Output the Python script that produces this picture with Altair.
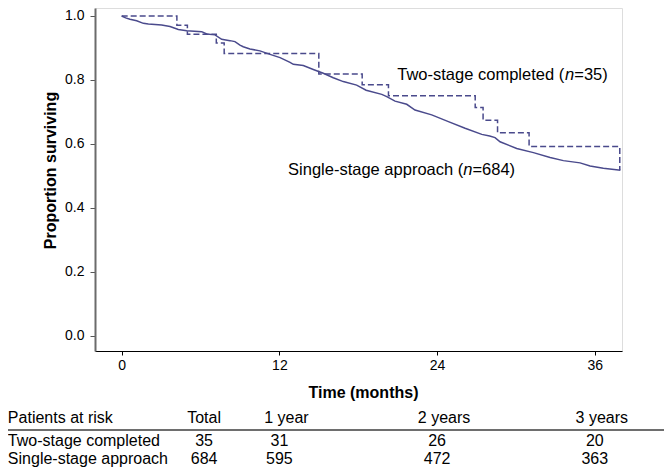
import altair as alt
import pandas as pd

# ---- data ----
single_months = [0.0, 0.3, 0.63, 1.14, 1.65, 2.03, 3.04, 3.68, 4.31, 4.95, 6.09, 6.47, 7.1, 7.61,
                 8.24, 8.62, 9.0, 9.25, 9.76, 10.52, 11.29, 12.05, 12.81, 13.06, 13.82, 14.58,
                 15.34, 16.1, 16.86, 17.88, 18.6, 19.79, 20.17, 20.8, 21.69, 22.32, 23.59, 24.86,
                 26.13, 27.4, 28.0, 28.41, 28.79, 30.06, 31.33, 32.6, 33.61, 34.88, 35.64, 36.65,
                 37.8, 37.95]
single_surv = [1.0, 0.994, 0.990, 0.985, 0.977, 0.975, 0.972, 0.967, 0.958, 0.954, 0.951, 0.944,
               0.941, 0.927, 0.923, 0.920, 0.909, 0.904, 0.897, 0.891, 0.880, 0.870, 0.855, 0.849,
               0.845, 0.833, 0.821, 0.807, 0.795, 0.784, 0.768, 0.755, 0.748, 0.734, 0.724, 0.706,
               0.691, 0.670, 0.649, 0.630, 0.625, 0.620, 0.607, 0.586, 0.573, 0.558, 0.548, 0.541,
               0.531, 0.524, 0.519, 0.518]

two_months = [0.0, 4.2, 5.0, 7.2, 7.8, 15.0, 18.3, 20.3, 26.9, 27.5, 28.6, 31.0, 37.9]
two_surv = [1.0, 0.971, 0.943, 0.916, 0.883, 0.819, 0.785, 0.751, 0.714, 0.674, 0.635, 0.592, 0.519]

group_names = ["Two-stage completed", "Single-stage approach"]
group_n = [35, 684]
risk_header = "Patients at risk"
risk_columns = ["Total", "1 year", "2 years", "3 years"]
risk_two_stage = [35, 31, 26, 20]
risk_single_stage = [684, 595, 472, 363]
x_ticks = [0, 12, 24, 36]
y_ticks = [0.0, 0.2, 0.4, 0.6, 0.8, 1.0]

# ---- styling / layout ----
FONT = "Liberation Sans"
LINE = "#4a4a8c"
X_DOMAIN = [-2.03, 38.07]
Y_DOMAIN = [-0.047, 1.025]
W, H = 527, 343
SVG_W, SVG_H = 656, 459
ANN_SIZE = 16.5
TAB_SIZE = 16

ARIAL = {' ': 278, '(': 333, ')': 333, '-': 333, '=': 584, 'S': 667, 'T': 611, 'a': 556,
         'c': 500, 'd': 556, 'e': 556, 'g': 556, 'h': 556, 'i': 222, 'l': 222, 'm': 833,
         'n': 556, 'o': 556, 'p': 556, 'r': 333, 's': 500, 't': 278, 'w': 722}


def text_w(s, size):
    return sum(ARIAL.get(c, 556) for c in s) * size / 1000.0


x_axis = alt.Axis(values=x_ticks, title="Time (months)", titleFontSize=16, titleFontWeight="bold",
                  titleFont=FONT, titleColor="black", titleX=268, titleY=41, titleBaseline="middle",
                  titleAlign="center", labelFont=FONT, labelFontSize=14, labelColor="black",
                  labelPadding=3, labelFlush=False, tickSize=4, tickColor="black", tickWidth=1,
                  domainColor="black", domainWidth=1, grid=False)
y_axis = alt.Axis(values=y_ticks, format=".1f", title="Proportion surviving", titleFontSize=16,
                  titleFontWeight="bold", titleFont=FONT, titleColor="black", titleX=-45, titleY=162,
                  titleAngle=270, titleAlign="center", titleBaseline="middle", labelFont=FONT,
                  labelFontSize=14, labelColor="black", labelPadding=6, tickSize=5,
                  tickColor="#555555", tickWidth=1, domainColor="#6b6b6b", domainWidth=2, grid=False)

X = alt.X("month:Q", scale=alt.Scale(domain=X_DOMAIN, nice=False, zero=False), axis=x_axis)
Y = alt.Y("surv:Q", scale=alt.Scale(domain=Y_DOMAIN, nice=False, zero=False), axis=y_axis)

single_df = pd.DataFrame({"month": single_months, "surv": single_surv})
two_df = pd.DataFrame({"month": two_months, "surv": two_surv})

solid = alt.Chart(single_df).mark_line(color=LINE, strokeWidth=1.5, interpolate="linear").encode(x=X, y=Y)
dashed = alt.Chart(two_df).mark_line(color=LINE, strokeWidth=1.5, strokeDash=[6, 3],
                                     interpolate="step-after").encode(x=X, y=Y)

# annotations: "<name> (" + italic n + "=N)"
ann_pos = {"Two-stage completed": (20.97, 0.816), "Single-stage approach": (12.66, 0.519)}
ann_layers = []
for name, n in zip(group_names, group_n):
    mx, sy = ann_pos[name]
    pre = f"{name} ("
    post = f"={n})"
    df = pd.DataFrame({"month": [mx], "surv": [sy]})
    w_pre = text_w(pre, ANN_SIZE)
    w_n = text_w("n", ANN_SIZE)
    for txt, dx, style in [(pre, 0, "normal"), ("n", w_pre, "italic"), (post, w_pre + w_n, "normal")]:
        ann_layers.append(
            alt.Chart(df).mark_text(align="left", baseline="middle", dx=dx, font=FONT,
                                    fontSize=ANN_SIZE, fontStyle=style, color="black")
            .encode(x=X, y=Y, text=alt.value(txt))
        )

main = alt.layer(solid, dashed, *ann_layers)

# ---- at-risk table ----
col_month = {"Total": 6.27, "1 year": 12, "2 years": 24, "3 years": 36}
row_y = {"header": 0.0, "rule": 0.6, "Two-stage completed": 1.15, "Single-stage approach": 2.05}
TY = alt.Y("ty:Q", scale=alt.Scale(domain=[0, 1], range=[410, 430], nice=False, zero=False), axis=None)
LABEL_X = -8.66

left_df = pd.DataFrame({"month": [LABEL_X] * 3,
                        "ty": [row_y["header"], row_y[group_names[0]], row_y[group_names[1]]],
                        "label": [risk_header] + group_names})
total_hdr_df = pd.DataFrame({"month": [col_month["Total"]], "ty": [row_y["header"]], "label": ["Total"]})
year_hdr_df = pd.DataFrame({"month": [col_month[c] for c in risk_columns[1:]],
                            "ty": [row_y["header"]] * 3, "label": risk_columns[1:]})
cells = []
for g, vals in zip(group_names, [risk_two_stage, risk_single_stage]):
    for c, v in zip(risk_columns, vals):
        cells.append({"month": col_month[c], "ty": row_y[g], "label": str(v)})
cells_df = pd.DataFrame(cells)
rule_df = pd.DataFrame({"month": [-12.0], "month2": [45.0], "ty": [row_y["rule"]]})

tstyle = dict(baseline="middle", font=FONT, fontSize=TAB_SIZE, color="black")
t_left = alt.Chart(left_df).mark_text(align="left", **tstyle).encode(x=X, y=TY, text="label:N")
t_total = alt.Chart(total_hdr_df).mark_text(align="center", **tstyle).encode(x=X, y=TY, text="label:N")
t_years = alt.Chart(year_hdr_df).mark_text(align="center", dx=7, **tstyle).encode(x=X, y=TY, text="label:N")
t_cells = alt.Chart(cells_df).mark_text(align="center", **tstyle).encode(x=X, y=TY, text="label:N")
t_rule = alt.Chart(rule_df).mark_rule(color="#6e6e6e", strokeWidth=2).encode(x=X, x2="month2:Q", y=TY)

table = alt.layer(t_rule, t_left, t_total, t_years, t_cells)

chart = (
    alt.layer(main, table)
    .resolve_scale(y="independent")
    .properties(width=W, height=H, autosize=alt.AutoSizeParams(type="none"),
                padding={"left": 87, "top": 0, "right": SVG_W - 87 - W, "bottom": SVG_H - H},
                background="white")
    .configure_view(stroke=None)
    .configure(font=FONT)
)

chart.save("out.html", embed_options={"renderer": "svg", "actions": False})
